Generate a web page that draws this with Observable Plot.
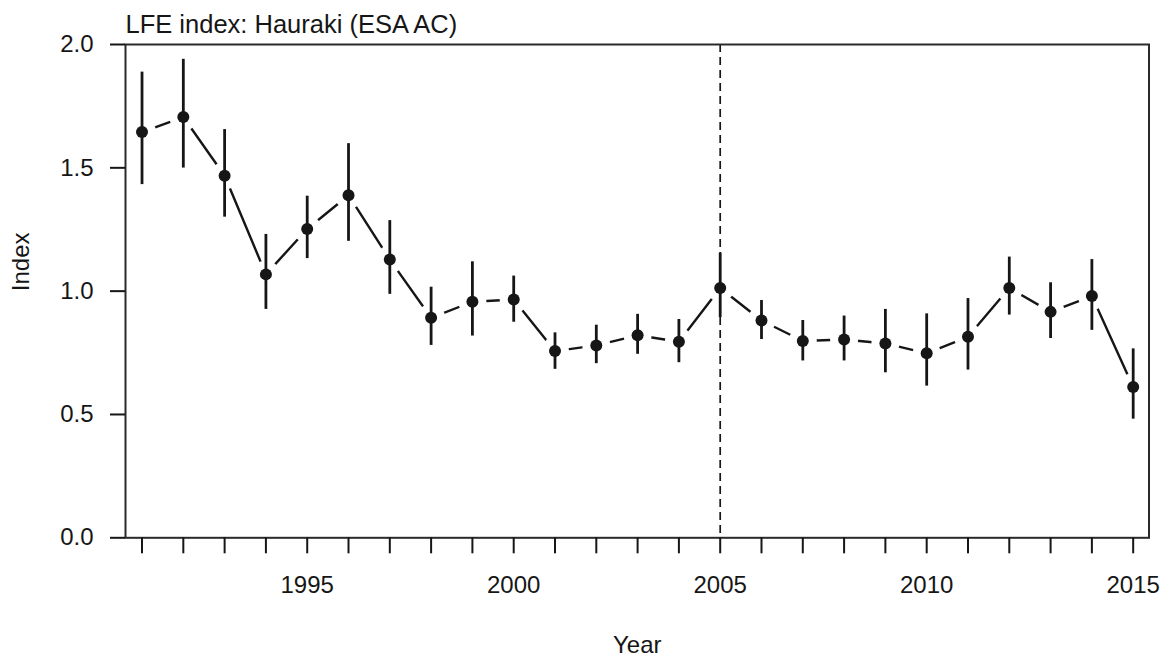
<!DOCTYPE html>
<html>
<head>
<meta charset="utf-8">
<script src="https://cdn.jsdelivr.net/npm/d3@7"></script>
<script src="https://cdn.jsdelivr.net/npm/@observablehq/plot@0.6"></script>
<style>
  html, body { margin: 0; padding: 0; background: #fff; }
</style>
</head>
<body>
<div id="chart"></div>
<script>
// Hauraki LFE index by fishing year, with confidence intervals
const years = [1991, 1992, 1993, 1994, 1995, 1996, 1997, 1998, 1999, 2000, 2001, 2002, 2003,
               2004, 2005, 2006, 2007, 2008, 2009, 2010, 2011, 2012, 2013, 2014, 2015];
const index = [1.645, 1.706, 1.468, 1.068, 1.252, 1.389, 1.128, 0.892, 0.957, 0.966, 0.757, 0.780, 0.821,
               0.795, 1.013, 0.881, 0.798, 0.804, 0.788, 0.748, 0.815, 1.013, 0.916, 0.980, 0.611];
const lower = [1.432, 1.499, 1.300, 0.926, 1.132, 1.202, 0.987, 0.780, 0.818, 0.874, 0.683, 0.706, 0.744,
               0.710, 0.893, 0.804, 0.717, 0.717, 0.669, 0.615, 0.680, 0.903, 0.808, 0.841, 0.481];
const upper = [1.888, 1.940, 1.655, 1.230, 1.385, 1.598, 1.286, 1.016, 1.119, 1.061, 0.831, 0.862, 0.906,
               0.885, 1.154, 0.962, 0.881, 0.899, 0.926, 0.908, 0.970, 1.138, 1.034, 1.128, 0.766];

const yTicks = [0, 0.5, 1.0, 1.5, 2.0];
const xLabelledTicks = [1995, 2000, 2005, 2010, 2015];
const referenceYear = [2005];

const titleText = "LFE index: Hauraki (ESA AC)";
const xTitle = "Year";
const yTitle = "Index";

const rows = years.map((year, i) => ({ year, index: index[i], lower: lower[i], upper: upper[i] }));

const ink = "#161616";

const chart = Plot.plot({
  width: 1169,
  height: 659,
  marginLeft: 125,
  marginRight: 20.5,
  marginTop: 44,
  marginBottom: 121.7,
  style: {
    fontFamily: "'Liberation Sans', Arial, Helvetica, sans-serif",
    fontSize: "24px",
    color: ink,
    background: "#fff"
  },
  x: { domain: [1990.6, 2015.383] },
  y: { domain: [0, 2] },
  marks: [
    // dashed reference line
    Plot.ruleX(referenceYear, { stroke: ink, strokeWidth: 1.7, strokeDasharray: "8,5" }),
    // connecting line, broken around each point by a white halo
    Plot.line(rows, { x: "year", y: "index", stroke: ink, strokeWidth: 2.4 }),
    Plot.dot(rows, { x: "year", y: "index", r: 14, fill: "white" }),
    // confidence intervals
    Plot.ruleX(rows, { x: "year", y1: "lower", y2: "upper", stroke: ink, strokeWidth: 2.8 }),
    Plot.dot(rows, { x: "year", y: "index", r: 6, fill: ink }),
    Plot.frame({ stroke: "#2a2a2a", strokeWidth: 2 }),
    Plot.axisY({
      ticks: yTicks, tickSize: 15, tickPadding: 17,
      tickFormat: d3.format(".1f"), label: null, strokeWidth: 2
    }),
    Plot.axisX({
      ticks: years, tickSize: 16, tickPadding: 21.7,
      tickFormat: d => (xLabelledTicks.includes(d) ? String(d) : ""), label: null, strokeWidth: 2
    }),
    Plot.text([titleText], { text: d => d, frameAnchor: "top-left", textAnchor: "start", lineAnchor: "middle", dy: -19.7, fontSize: 25.5 }),
    Plot.text([xTitle], { text: d => d, frameAnchor: "bottom", lineAnchor: "middle", dy: 107.7 }),
    Plot.text([yTitle], { text: d => d, frameAnchor: "left", rotate: -90, lineAnchor: "middle", dx: -103.7 })
  ]
});

document.getElementById("chart").appendChild(chart);
</script>
</body>
</html>
